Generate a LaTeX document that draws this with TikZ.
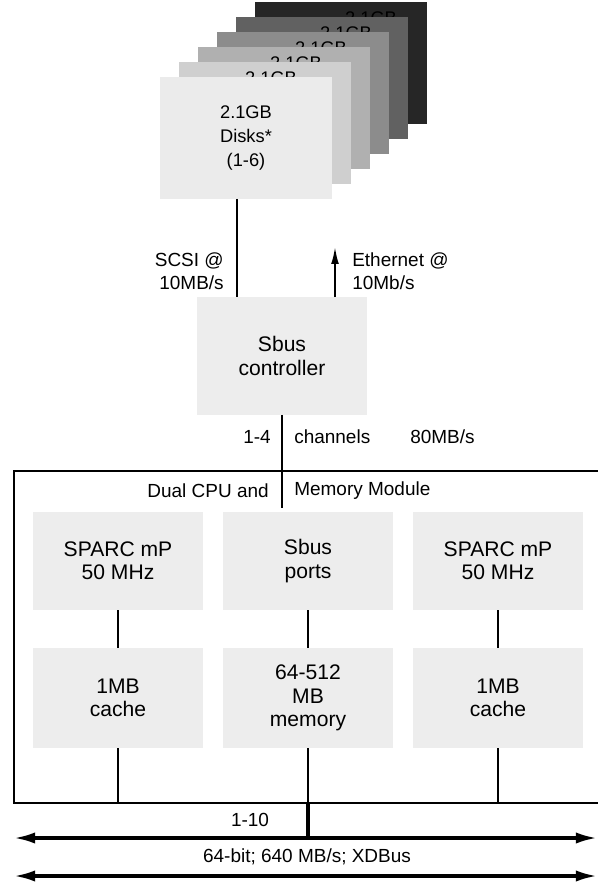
\documentclass[tikz,border=0pt]{standalone}
\usepackage{fontspec}
\setmainfont{Liberation Sans}
\usetikzlibrary{calc,arrows.meta,positioning}

\begin{document}
\begin{tikzpicture}[x=0.025cm, y=-0.025cm, >=Latex,
    every node/.style={inner sep=0pt},
    big/.style={font=\fontsize{15}{16.5}\selectfont},
    small/.style={font=\fontsize{13.5}{16.5}\selectfont},
    unit/.style={big, fill=halftone, minimum width=4.25cm, align=center},
    disk/.style={font=\fontsize{13}{16.8}\selectfont, minimum width=4.3cm, minimum height=3.025cm},
    wire/.style={line width=1.3pt},
    bus/.style={line width=2.3pt, {Latex[length=15pt, width=8pt]}-{Latex[length=15pt, width=8pt]}}]

    % Colors
    \definecolor{halftone}{HTML}{EDEDED}

    \useasboundingbox (0,0) rectangle (598,882);

    % Disk stack, back to front
    \foreach \i/\shade in {5/85, 4/62, 3/45, 2/31, 1/19} {
        \node[disk, fill=black!\shade] (disk\i) at ({246+19*\i}, {138-15*\i}) {};
        \node[disk, minimum width=0pt, minimum height=0pt] (tag\i) at ($(disk\i.north)+({6*\i}, 16)$) {2.1GB};
    }
    \node[disk, fill=black!8, align=center] (disk0) at (246, 138) {2.1GB\\Disks*\\(1-6)};

    % Sbus controller
    \node[unit, minimum height=2.925cm] (sbus) at (282, 356) {Sbus\\controller};

    % SCSI and Ethernet links
    \coordinate (scsi) at (237, 0);
    \coordinate (ether) at (335, 247);
    \draw[wire] (disk0.south -| scsi) -- (sbus.north -| scsi);
    \draw[wire, -{Latex[length=12pt, width=5.5pt]}] (sbus.north -| ether) -- (ether);
    \node[small, align=right, anchor=east] (scsilbl) at (224, 271) {SCSI @\\10MB/s};
    \node[small, align=left, anchor=west] (etherlbl) at (352, 271) {Ethernet @\\10Mb/s};

    % Channels into the module
    \coordinate (chan) at (282, 508);
    \draw[wire] (sbus.south) -- (chan);
    \node[small, anchor=east] (nchan) at (271, 437) {1-4};
    \node[small, anchor=west] (chanlbl) at (294, 437) {channels};
    \node[small, anchor=west] (rate) at (410, 437) {80MB/s};

    % Module outline, open to the right
    \coordinate (modNE) at (600, 471);
    \coordinate (modNW) at (14, 471);
    \coordinate (modSW) at (14, 803);
    \coordinate (modSE) at (600, 803);
    \draw[wire] (modNE) -- (modNW) -- (modSW) -- (modSE);
    \node[small, anchor=east] (dual) at (269, 491) {Dual CPU and};
    \node[small, anchor=west] (memmod) at (294, 491) {Memory Module};

    % CPU / cache columns
    \foreach \col/\x/\txtA/\txtB in {L/118/{SPARC mP\\50 MHz}/{1MB\\cache},
                                    M/308/{Sbus\\ports}/{64-512\\MB\\memory},
                                    R/498/{SPARC mP\\50 MHz}/{1MB\\cache}} {
        \node[unit, minimum height=2.45cm] (cpu\col) at (\x, 561) {\txtA};
        \node[unit, minimum height=2.5cm] (cache\col) at (\x, 698) {\txtB};
        \draw[wire] (cpu\col) -- (cache\col);
        \draw[wire] (cache\col) -- (cache\col.south |- modSW);
    }

    % XDBus
    \coordinate (busA) at (14, 838);
    \coordinate (busAend) at (597, 838);
    \coordinate (busB) at (14, 876);
    \coordinate (busBend) at (597, 876);
    \draw[line width=2.3pt] (cacheM.south |- modSW) -- (cacheM.south |- busA);
    \draw[bus] (busA) -- (busAend);
    \draw[bus] (busB) -- (busBend);
    \node[small] (ncard) at (250, 820) {1-10};
    \node[small] (xdbus) at (307, 857) {64-bit; 640 MB/s; XDBus};
\end{tikzpicture}
\end{document}
